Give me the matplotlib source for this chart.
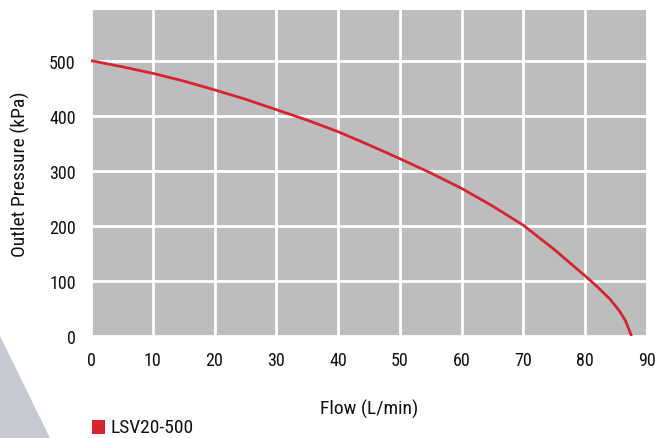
import numpy as np
import matplotlib.pyplot as plt
from matplotlib.patches import Polygon, Rectangle
from matplotlib import font_manager

# Pump curve
flow = [0, 5, 10, 15, 20, 25, 30, 35, 40, 45, 50, 55, 60, 65, 70, 75, 80, 82, 84, 85.5, 86.5, 87.5]
pressure = [500, 489, 477, 463, 447, 430, 411, 392, 371, 347, 322, 296, 268, 236, 201, 157, 109, 89, 67, 46, 28, 0]
series_name = "LSV20-500"
xticks = list(range(0, 100, 10))
yticks = list(range(0, 600, 100))

names = {f.name for f in font_manager.fontManager.ttflist}
fams = [f for f in ['Liberation Sans Narrow', 'Roboto Condensed', 'DejaVu Sans Condensed',
                    'Roboto', 'DejaVu Sans'] if f in names]
plt.rcParams['font.family'] = fams
cond = fams[0] in ('Liberation Sans Narrow', 'Roboto Condensed', 'DejaVu Sans Condensed')
fs_tick = 13 if cond else 11
fs_lab = 14 if cond else 12

fig = plt.figure(figsize=(6.57, 4.39), dpi=100)

# decorative grey wedge bottom left
fig.patches.append(Polygon([[0, 1 - 337/439], [50/657, 0], [0, 0]], closed=True,
                           transform=fig.transFigure, facecolor='#c6c9d1',
                           edgecolor='none', zorder=0))

ax = fig.add_axes([91/657, 1 - 337/439, 556/657, 326/439])
ax.set_facecolor('#bcbdbf')
ax.plot(flow, pressure, color='#d7242e', lw=2, zorder=3,
        solid_capstyle='butt', solid_joinstyle='round')

ax.set_xlim(0, 90)
ax.set_ylim(0, 592)
ax.set_xticks(xticks)
ax.set_yticks(yticks)
ax.grid(True, color='white', lw=2)
ax.set_axisbelow(True)
for s in ax.spines.values():
    s.set_visible(False)
ax.tick_params(length=0, labelsize=fs_tick, colors='#111111')
ax.tick_params(axis='x', pad=11)
ax.tick_params(axis='y', pad=11)

ax.set_xlabel("Flow (L/min)", fontsize=fs_lab, labelpad=21, color='#111111')
ax.set_ylabel("Outlet Pressure (kPa)", fontsize=fs_lab, labelpad=14, color='#111111')

# legend
fig.patches.append(Rectangle((92/657, 1 - 435/439), 13/657, 14/439,
                             transform=fig.transFigure, facecolor='#d7242e',
                             edgecolor='none'))
fig.text(110/657, 1 - 428/439, series_name, fontsize=fs_lab, va='center',
         color='#111111')

fig.savefig('out.png', dpi=100)
